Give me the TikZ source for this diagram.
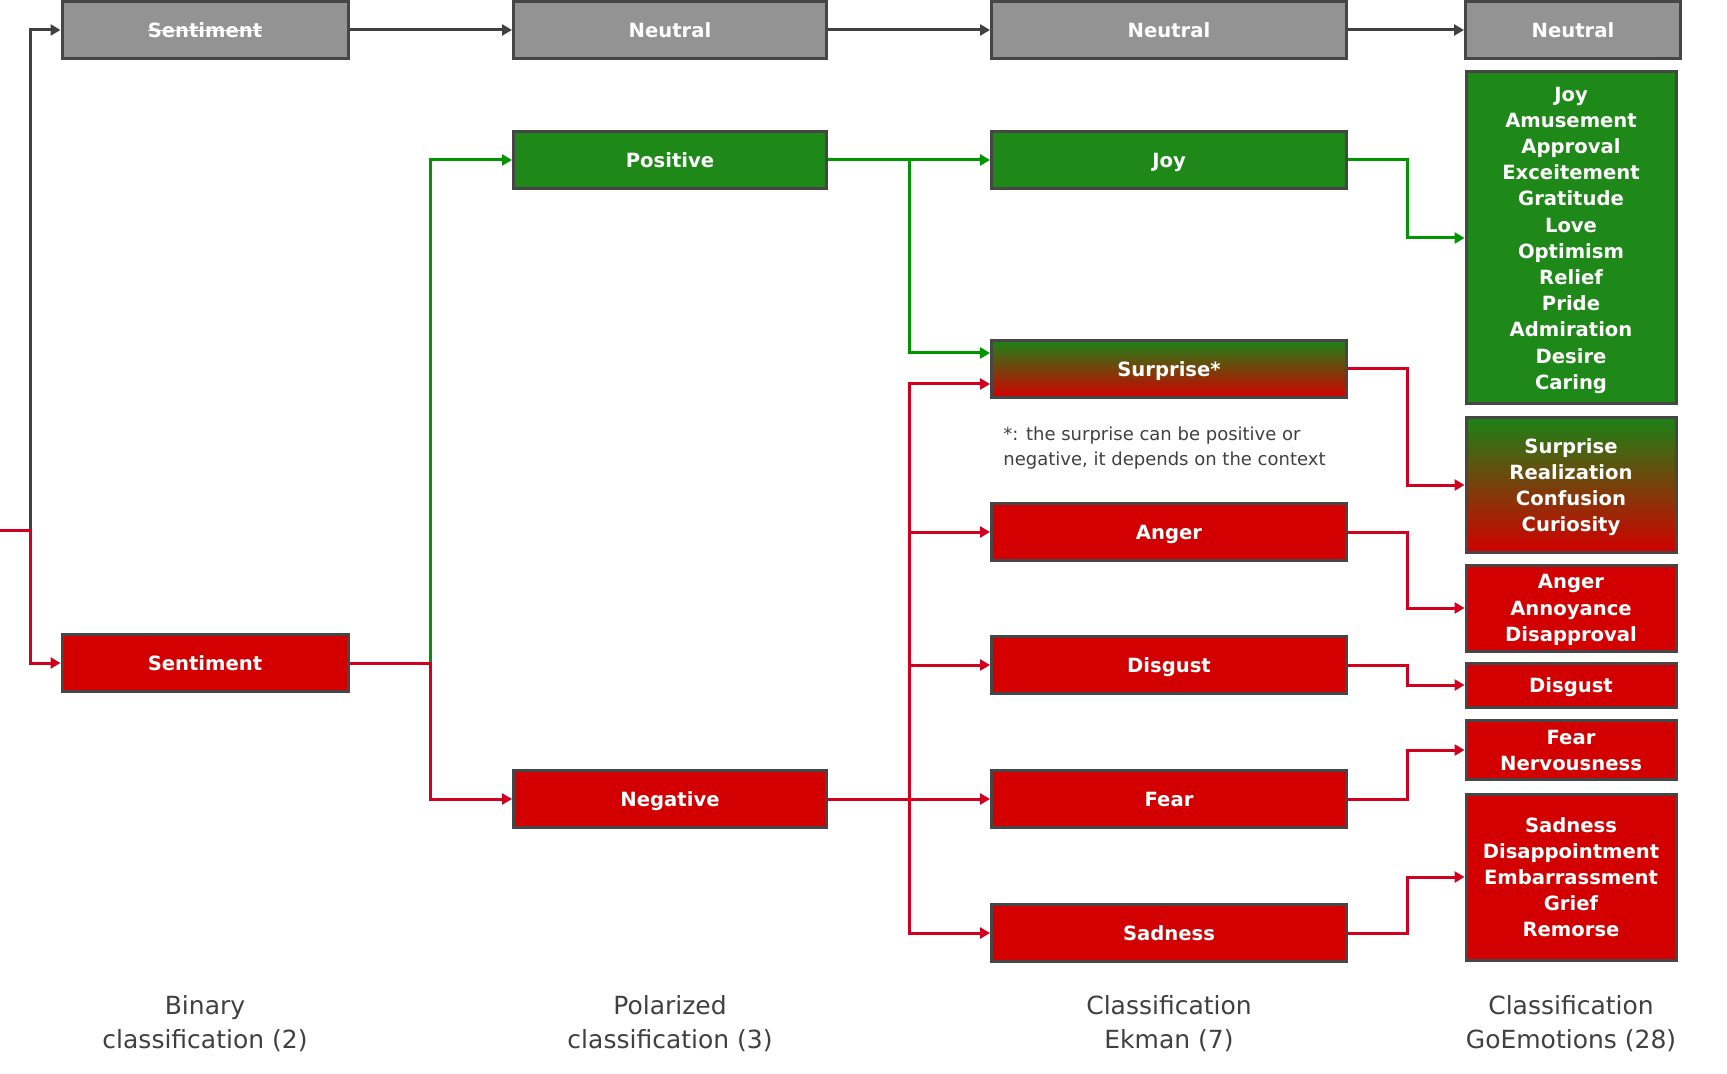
\documentclass[tikz,border=0pt]{standalone}
\usepackage{fontspec}
\setmainfont{DejaVu Sans}
\usetikzlibrary{arrows.meta,calc}

\definecolor{boxborder}{RGB}{70,70,70}
\definecolor{neutralfill}{RGB}{147,147,147}
\definecolor{posfill}{RGB}{30,137,24}
\definecolor{negfill}{RGB}{210,0,0}
\definecolor{poslinecol}{RGB}{0,150,0}
\definecolor{neglinecol}{RGB}{210,0,30}
\definecolor{neutrallinecol}{RGB}{64,64,64}
\definecolor{captioncol}{RGB}{64,64,64}

\newcommand{\strikeword}[1]{\setbox0\hbox{#1}\rlap{\rule[0.33em]{\wd0}{0.7pt}}\box0}

\begin{document}
\begin{tikzpicture}[x=0.5pt,y=-0.5pt,
    box/.style={draw=boxborder, line width=1.5pt, text=white, align=center, inner sep=0pt,
        text depth=0pt, minimum height=28.5pt, font=\fontsize{9.8}{13.1}\selectfont\bfseries},
    neutralbox/.style={box, fill=neutralfill},
    posbox/.style={box, fill=posfill},
    negbox/.style={box, fill=negfill},
    mixbox/.style={box, top color=posfill!95!black, bottom color=negfill},
    link/.style={line width=1.5pt, -{Triangle[length=5pt,width=5.5pt]}},
    neutrallink/.style={link, draw=neutrallinecol},
    poslink/.style={link, draw=poslinecol},
    neglink/.style={link, draw=neglinecol},
    caption/.style={text=captioncol, align=center, font=\fontsize{12.5}{17}\selectfont},
    note/.style={text=captioncol, align=left, anchor=north west, inner sep=0pt, font=\fontsize{9}{12.6}\selectfont}
]
\useasboundingbox (0,0) rectangle (1727,1074);

% binary
\node[neutralbox, minimum width=143pt] (n1) at (205,30) {\strikeword{Sentiment}};
\node[negbox, minimum width=143pt] (senti) at (205,663) {Sentiment};

% polarized
\node[neutralbox, minimum width=156.5pt] (n2) at (670,30) {Neutral};
\node[posbox, minimum width=156.5pt] (pos) at (670,160) {Positive};
\node[negbox, minimum width=156.5pt] (neg) at (670,799) {Negative};

% ekman
\node[neutralbox, minimum width=177.5pt] (n3) at (1169,30) {Neutral};
\node[posbox, minimum width=177.5pt] (joy) at (1169,160) {Joy};
\node[mixbox, minimum width=177.5pt] (surp) at (1169,369) {Surprise*};
\node[negbox, minimum width=177.5pt] (anger) at (1169,532) {Anger};
\node[negbox, minimum width=177.5pt] (disgust) at (1169,665) {Disgust};
\node[negbox, minimum width=177.5pt] (fear) at (1169,799) {Fear};
\node[negbox, minimum width=177.5pt] (sadness) at (1169,933) {Sadness};
\node[note] (surpnote) at (1003,426) {*: the surprise can be positive or\\negative, it depends on the context};

% goemotions
\node[neutralbox, minimum width=107.5pt] (n4) at (1573,30) {Neutral};
\node[posbox, minimum width=105pt, minimum height=166pt] (gjoy) at (1571,238)
    {Joy\\Amusement\\Approval\\Exceitement\\Gratitude\\Love\\Optimism\\Relief\\Pride\\Admiration\\Desire\\Caring};
\node[mixbox, minimum width=105pt, minimum height=67.5pt] (gsurp) at (1571,485)
    {Surprise\\Realization\\Confusion\\Curiosity};
\node[negbox, minimum width=105pt, minimum height=43pt] (ganger) at (1571,608)
    {Anger\\Annoyance\\Disapproval};
\node[negbox, minimum width=105pt, minimum height=22pt] (gdisgust) at (1571,685) {Disgust};
\node[negbox, minimum width=105pt, minimum height=29.5pt] (gfear) at (1571,750) {Fear\\Nervousness};
\node[negbox, minimum width=105pt, minimum height=83pt] (gsad) at (1571,877)
    {Sadness\\Disappointment\\Embarrassment\\Grief\\Remorse};

% captions
\node[caption] (cap1) at (205,1024) {Binary\\classification (2)};
\node[caption] (cap2) at (670,1024) {Polarized\\classification (3)};
\node[caption] (cap3) at (1169,1024) {Classification\\Ekman (7)};
\node[caption] (cap4) at (1571,1024) {Classification\\GoEmotions (28)};

% links
\coordinate (in) at (0,530);
\coordinate (split) at (30,530);
\draw[neutrallink] (split) |- (n1.west);
\draw[neglink] (in) -- (split) |- (senti.west);
\draw[neutrallink] (n1.east) -- (n2.west);
\draw[neutrallink] (n2.east) -- (n3.west);
\draw[neutrallink] (n3.east) -- (n4.west);

\draw[poslink] (senti.east) -- ++(81,0) coordinate (b1) |- (pos.west);
\draw[neglink] (senti.east) -- (b1) |- (neg.west);

\draw[poslink] (pos.east) -- (joy.west);
\draw[poslink] (pos.east) -- ++(81,0) coordinate (b2) |- ($(surp.west)+(0,-16)$);
\draw[neglink] (neg.east) -- (fear.west);
\draw[neglink] (neg.east) -- ++(81,0) coordinate (b3) |- ($(surp.west)+(0,15)$);
\draw[neglink] (b3) |- (anger.west);
\draw[neglink] (b3) |- (disgust.west);
\draw[neglink] (b3) |- (sadness.west);

\draw[poslink] (joy.east) -- ++(59,0) |- (gjoy.west);
\draw[neglink] (surp.east) -- ++(59,0) |- (gsurp.west);
\draw[neglink] (anger.east) -- ++(59,0) |- (ganger.west);
\draw[neglink] (disgust.east) -- ++(59,0) |- (gdisgust.west);
\draw[neglink] (fear.east) -- ++(59,0) |- (gfear.west);
\draw[neglink] (sadness.east) -- ++(59,0) |- (gsad.west);

\end{tikzpicture}
\end{document}
